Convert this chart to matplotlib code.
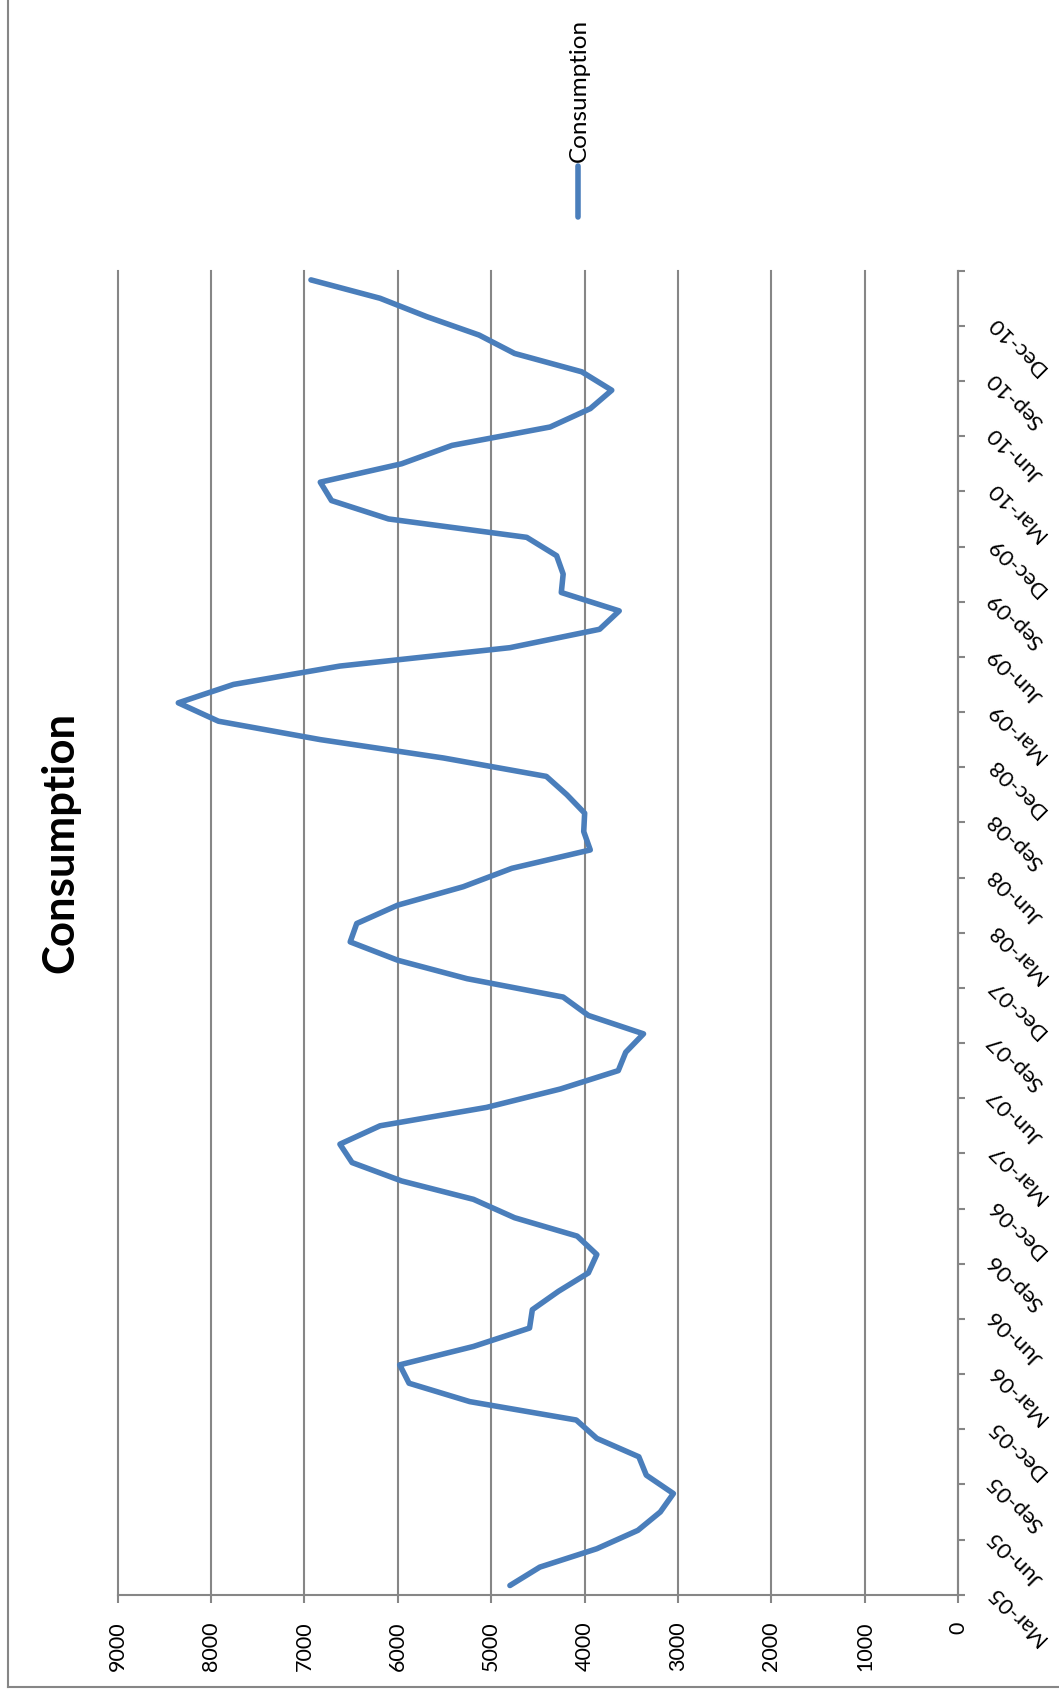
import numpy as np
import matplotlib
matplotlib.use("Agg")
import matplotlib.pyplot as plt
from matplotlib.lines import Line2D

plt.rcParams['font.family'] = ['Lato', 'DejaVu Sans']

# ---------------- data ----------------
series_name = "Consumption"
title_text = "Consumption"
# monthly values, Mar-05 .. Feb-11
consumption = [
    4800, 4480, 3870, 3430, 3190, 3050, 3340, 3420, 3870, 4090, 5230, 5880,
    5980, 5190, 4590, 4560, 4280, 3960, 3870, 4080, 4750, 5190, 5960, 6490,
    6620, 6190, 5050, 4260, 3640, 3560, 3370, 3960, 4230, 5260, 6000, 6510,
    6440, 6000, 5300, 4780, 3940, 4010, 4000, 4190, 4410, 5510, 6830, 7920,
    8350, 7760, 6620, 4800, 3840, 3630, 4250, 4230, 4300, 4620, 6100, 6710,
    6830, 5960, 5420, 4370, 3940, 3710, 4030, 4750, 5130, 5690, 6190, 6930,
]
quarter_labels = [
    "Mar-05", "Jun-05", "Sep-05", "Dec-05",
    "Mar-06", "Jun-06", "Sep-06", "Dec-06",
    "Mar-07", "Jun-07", "Sep-07", "Dec-07",
    "Mar-08", "Jun-08", "Sep-08", "Dec-08",
    "Mar-09", "Jun-09", "Sep-09", "Dec-09",
    "Mar-10", "Jun-10", "Sep-10", "Dec-10",
]
value_ticks = [0, 1000, 2000, 3000, 4000, 5000, 6000, 7000, 8000, 9000]

# ---------------- style ----------------
LINE = "#4A7EBB"
GRID = "#868686"
W, H = 1059, 1699

def fx(px):
    return px / W

def fy(py):
    return 1 - py / H

fig = plt.figure(figsize=(W / 100, H / 100), dpi=100)
fig.patch.set_facecolor("white")

left, right, top, bottom = 117.6, 958.3, 271.7, 1595.7
ax = fig.add_axes([fx(left), fy(bottom), fx(right) - fx(left), fy(top) - fy(bottom)])

n = len(consumption)
pos = np.arange(n) + 0.5
ax.plot(consumption, pos, color=LINE, lw=4.0, solid_joinstyle="round",
        solid_capstyle="round", zorder=3)

ax.set_xlim(9000, 0)
ax.set_ylim(0, n)

# value axis (bottom)
ax.set_xticks(value_ticks, [str(v) for v in value_ticks])
ax.grid(axis="x", color=GRID, lw=1.5)
ax.grid(axis="y", visible=False)
ax.set_axisbelow(True)
for gl in ax.get_xgridlines():
    gl.set_clip_on(False)

for s in ["top", "left"]:
    ax.spines[s].set_visible(False)
for s in ["bottom", "right"]:
    ax.spines[s].set_color(GRID)
    ax.spines[s].set_linewidth(1.5)

ax.tick_params(axis="x", direction="out", length=5.5, width=1.5, color=GRID,
               pad=13, labelsize=15.5, labelrotation=90, labelcolor="black")

# category axis (right)
ax.yaxis.tick_right()
ax.set_yticks(np.arange(0, n + 1, 3), quarter_labels + [""])
ax.tick_params(axis="y", direction="out", length=5, width=1.5, color=GRID,
               pad=13.4, labelsize=16, labelcolor="black", left=False, right=True)
plt.setp(ax.get_yticklabels(), rotation=135, rotation_mode="anchor",
         ha="right", va="top")

# title
fig.text(fx(60), fy(842), title_text, rotation=90, ha="center", va="center",
         fontsize=31.5, fontweight="bold")

# legend (rotated)
fig.add_artist(Line2D([fx(578), fx(578)], [fy(167), fy(218)],
                      transform=fig.transFigure, color=LINE, lw=4.0,
                      solid_capstyle="round"))
fig.text(fx(579), fy(162), series_name, rotation=90, ha="center", va="bottom",
         fontsize=17.5)

# chart-area border (left and bottom visible)
fig.add_artist(Line2D([fx(8), fx(8)], [fy(1688), 1.0], transform=fig.transFigure,
                      color=GRID, lw=1.5))
fig.add_artist(Line2D([fx(8), 1.0], [fy(1688), fy(1688)], transform=fig.transFigure,
                      color=GRID, lw=1.5))

fig.savefig("out.png", dpi=100, facecolor="white")
